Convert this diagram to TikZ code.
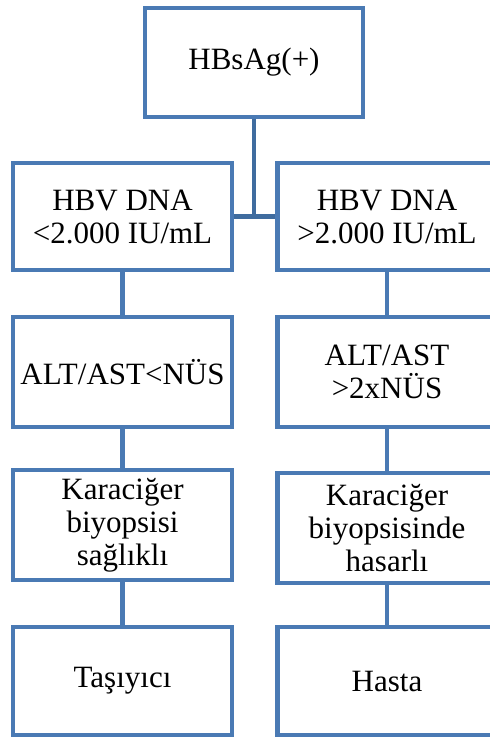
\documentclass[tikz,border=0pt]{standalone}
\usepackage{fontspec}
\setmainfont{Liberation Serif}
\usetikzlibrary{backgrounds}
\definecolor{boxblue}{HTML}{4A7AB4}
\definecolor{connblue}{HTML}{3F6C9F}
\begin{document}
\begin{tikzpicture}[x=1pt,y=-1pt,
  box/.style={draw=boxblue, line width=4.5pt, fill=white, minimum width=219pt,
    minimum height=108pt, align=center, inner sep=0pt,
    font=\fontsize{31}{33}\selectfont},
  conn/.style={draw=connblue, line width=4.5pt},
  link/.style={draw=boxblue, line width=4.5pt}]
\useasboundingbox (0,0) rectangle (490,737);
\clip (0,0) rectangle (490,737);
\node[box, minimum width=218pt, minimum height=109pt] (top) at (254,62.5) {HBsAg(+)};
\node[box, minimum height=107pt] (l2) at (122.5,216.5) {HBV DNA\\<2.000 IU/mL};
\node[box, minimum height=107pt] (r2) at (387,216.5) {HBV DNA\\>2.000 IU/mL};
\node[box, minimum height=110pt] (l3) at (122.5,372) {ALT/AST<NÜS};
\node[box, minimum height=110pt] (r3) at (387,372) {ALT/AST\\>2xNÜS};
\node[box, minimum height=110pt] (l4) at (122.5,525) {Karaciğer\\biyopsisi\\sağlıklı};
\node[box, minimum height=110pt] (r4) at (387,528) {Karaciğer\\biyopsisinde\\hasarlı};
\node[box, minimum height=108pt] (l5) at (122.5,681) {Taşıyıcı};
\node[box, minimum height=108pt] (r5) at (387,681) {Hasta};
\begin{scope}[on background layer]
\fill[white] (0,0) rectangle (490,737);
\draw[conn] (top.south) -- (top.south |- l2.east);
\draw[conn] (l2.east) -- (r2.west);
\draw[link] (l2.south) -- (l3.north);
\draw[link] (l3.south) -- (l4.north);
\draw[link] (l4.south) -- (l5.north);
\draw[link] (r2.south) -- (r3.north);
\draw[link] (r3.south) -- (r4.north);
\draw[link] (r4.south) -- (r5.north);
\end{scope}
\end{tikzpicture}
\end{document}
